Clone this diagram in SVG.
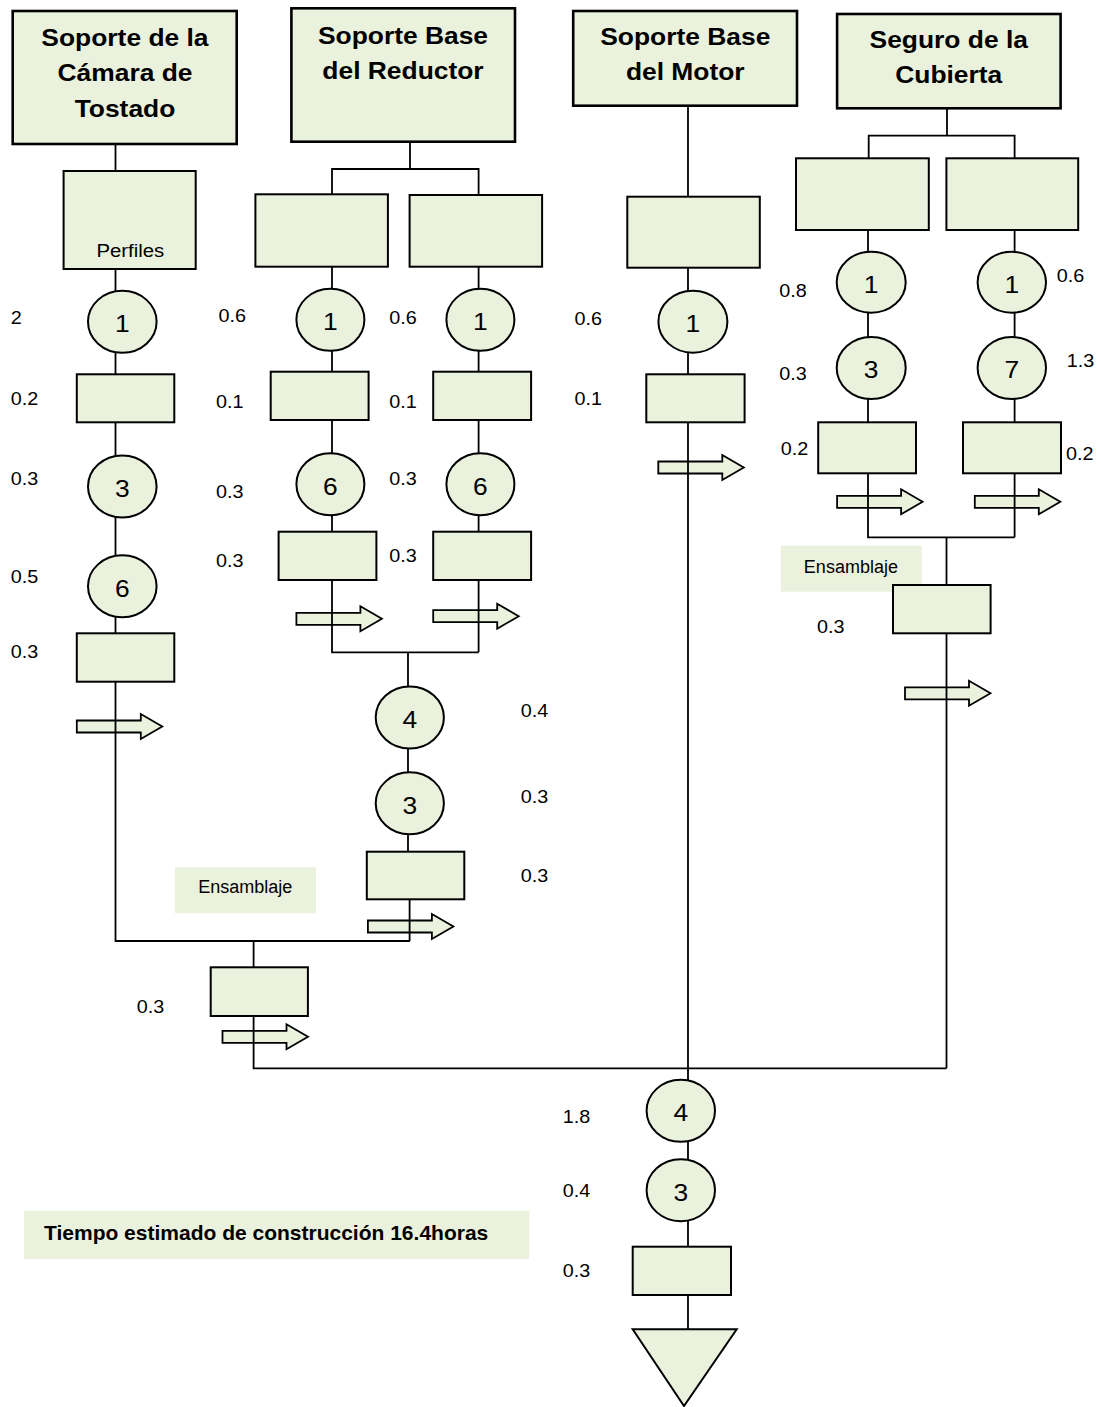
<svg xmlns="http://www.w3.org/2000/svg" xmlns:xlink="http://www.w3.org/1999/xlink" width="1101" height="1407" viewBox="0 0 1101 1407">
  <style>
    .hdr { fill: #EAF1DD; stroke: #000; stroke-width: 2.6; }
    .box { fill: #EAF1DD; stroke: #000; stroke-width: 2; }
    .op { fill: #EAF1DD; stroke: #000; stroke-width: 2; }
    .tag { fill: #EAF1DD; stroke: none; }
    .ln { fill: none; stroke: #000; stroke-width: 1.8; }
    .arr { fill: #EAF1DD; stroke: #000; stroke-width: 1.8; stroke-linejoin: miter; }
    text { font-family: "Liberation Sans", Arial, sans-serif; fill: #000; }
    .ht { font-size: 24px; font-weight: bold; text-anchor: middle;
          transform: scaleX(1.1); transform-box: fill-box; transform-origin: 50% 50%; }
    .dg { font-size: 24px; text-anchor: middle;
          transform: scaleX(1.1); transform-box: fill-box; transform-origin: 50% 50%; }
    .n { font-size: 18px; transform: scaleX(1.1); transform-box: fill-box; transform-origin: 0 50%; }
    .lb { font-size: 18px; text-anchor: middle; }
    .pf { font-size: 18.5px; text-anchor: middle;
          transform: scaleX(1.1); transform-box: fill-box; transform-origin: 50% 50%; }
    .tot { font-size: 21px; font-weight: bold; }
  </style>
  <defs>
    <!-- block arrow for transport steps, origin at left end of the shaft centre -->
    <path id="mv" class="arr" d="M0,-6 H64 V-12.5 L85.5,0 L64,12.5 V6 H0 Z"/>
  </defs>

  <rect width="1101" height="1407" fill="#fff"/>

  <!-- transport arrows (lines pass over them) -->
  <g id="transport">
    <use xlink:href="#mv" x="76.8" y="726.5"/>
    <use xlink:href="#mv" x="296.4" y="618.8"/>
    <use xlink:href="#mv" x="433.2" y="616.2"/>
    <use xlink:href="#mv" x="658.3" y="467.5"/>
    <use xlink:href="#mv" x="837.1" y="501.8"/>
    <use xlink:href="#mv" x="974.8" y="501.8"/>
    <use xlink:href="#mv" x="905" y="693.3"/>
    <use xlink:href="#mv" x="367.9" y="926.5"/>
    <use xlink:href="#mv" x="222.5" y="1036.8"/>
  </g>

  <!-- flow lines -->
  <g id="connectors" class="ln">
    <!-- camara de tostado -->
    <path d="M115.5,144 V941 H410"/>
    <!-- reductor -->
    <path d="M410,141.7 V169"/>
    <path d="M332,194.3 V169 H478.6 V195"/>
    <path d="M332,266.7 V652.3 H478.6"/>
    <path d="M478.6,266.7 V652.3"/>
    <path d="M408,652.3 V851.7"/>
    <path d="M409.6,899.3 V941"/>
    <!-- first assembly -->
    <path d="M253.6,941 V967.3"/>
    <path d="M253.6,1016 V1068.3 H946.5"/>
    <!-- motor / main line -->
    <path d="M688,105.7 V1246.7"/>
    <path d="M688,1295 V1329.3"/>
    <!-- cubierta -->
    <path d="M947,108.3 V135.7"/>
    <path d="M868.7,158.3 V135.7 H1014.6 V158.3"/>
    <path d="M868,230 V537.3 H1014.6"/>
    <path d="M1014.6,230 V537.3"/>
    <path d="M946.5,537.3 V1068.3"/>
  </g>

  <!-- headers -->
  <g id="hdr-camara">
    <rect class="hdr" x="12.7" y="11" width="224" height="133"/>
    <text class="ht" x="125" y="46">Soporte de la</text>
    <text class="ht" x="125" y="81.5">Cámara de</text>
    <text class="ht" x="125" y="117">Tostado</text>
  </g>
  <g id="hdr-reductor">
    <rect class="hdr" x="291.4" y="8.3" width="223.6" height="133.4"/>
    <text class="ht" x="403" y="44.3">Soporte Base</text>
    <text class="ht" x="403" y="79.3">del Reductor</text>
  </g>
  <g id="hdr-motor">
    <rect class="hdr" x="573.2" y="11" width="223.8" height="94.7"/>
    <text class="ht" x="685.3" y="45">Soporte Base</text>
    <text class="ht" x="685.3" y="80">del Motor</text>
  </g>
  <g id="hdr-cubierta">
    <rect class="hdr" x="837.1" y="14" width="223.5" height="94.3"/>
    <text class="ht" x="948.8" y="48.3">Seguro de la</text>
    <text class="ht" x="948.8" y="83.3">Cubierta</text>
  </g>

  <!-- raw material boxes -->
  <g id="mat-perfiles">
    <rect class="box" x="63.6" y="171" width="132.1" height="98"/>
    <text class="pf" x="130.4" y="256.7">Perfiles</text>
  </g>
  <g id="mat-red-a"><rect class="box" x="255.4" y="194.3" width="132.5" height="72.4"/></g>
  <g id="mat-red-b"><rect class="box" x="409.6" y="195" width="132.5" height="71.7"/></g>
  <g id="mat-motor"><rect class="box" x="627.3" y="196.7" width="132.5" height="71"/></g>
  <g id="mat-cub-a"><rect class="box" x="796" y="158.3" width="132.8" height="71.7"/></g>
  <g id="mat-cub-b"><rect class="box" x="946.4" y="158.3" width="131.8" height="71.7"/></g>

  <!-- column: camara de tostado -->
  <g id="cam-op1"><ellipse class="op" cx="122.3" cy="321.8" rx="34.3" ry="31"/><text class="dg" x="122.3" y="332.3">1</text></g>
  <g id="cam-insp1"><rect class="box" x="76.8" y="374.3" width="97.5" height="48"/></g>
  <g id="cam-op3"><ellipse class="op" cx="122.3" cy="486.5" rx="34.3" ry="31"/><text class="dg" x="122.3" y="497">3</text></g>
  <g id="cam-op6"><ellipse class="op" cx="122.3" cy="586.3" rx="34.3" ry="31"/><text class="dg" x="122.3" y="596.8">6</text></g>
  <g id="cam-insp2"><rect class="box" x="76.8" y="633.3" width="97.5" height="48.4"/></g>

  <!-- column: reductor a -->
  <g id="reda-op1"><ellipse class="op" cx="330.4" cy="319.8" rx="34" ry="31"/><text class="dg" x="330.4" y="330.3">1</text></g>
  <g id="reda-insp1"><rect class="box" x="270.7" y="371.7" width="97.9" height="48.3"/></g>
  <g id="reda-op6"><ellipse class="op" cx="330.4" cy="484.2" rx="34" ry="31"/><text class="dg" x="330.4" y="494.7">6</text></g>
  <g id="reda-insp2"><rect class="box" x="278.6" y="531.7" width="97.8" height="48.3"/></g>

  <!-- column: reductor b -->
  <g id="redb-op1"><ellipse class="op" cx="480.4" cy="319.8" rx="34" ry="31"/><text class="dg" x="480.4" y="330.3">1</text></g>
  <g id="redb-insp1"><rect class="box" x="433.2" y="371.7" width="97.9" height="48.3"/></g>
  <g id="redb-op6"><ellipse class="op" cx="480.4" cy="484.2" rx="34" ry="31"/><text class="dg" x="480.4" y="494.7">6</text></g>
  <g id="redb-insp2"><rect class="box" x="433.2" y="531.7" width="97.9" height="48.3"/></g>

  <!-- reductor joined -->
  <g id="red-op4"><ellipse class="op" cx="409.8" cy="717.5" rx="34.1" ry="31"/><text class="dg" x="409.8" y="728">4</text></g>
  <g id="red-op3"><ellipse class="op" cx="409.8" cy="803.3" rx="34.1" ry="31"/><text class="dg" x="409.8" y="813.8">3</text></g>
  <g id="red-insp"><rect class="box" x="366.8" y="851.7" width="97.5" height="47.6"/></g>

  <!-- column: motor -->
  <g id="mot-op1"><ellipse class="op" cx="692.9" cy="321.7" rx="34.5" ry="31"/><text class="dg" x="692.9" y="332.2">1</text></g>
  <g id="mot-insp"><rect class="box" x="646.3" y="374.3" width="98.3" height="48"/></g>

  <!-- column: cubierta -->
  <g id="cuba-op1"><ellipse class="op" cx="871.2" cy="282.2" rx="34.5" ry="30.5"/><text class="dg" x="871.2" y="293">1</text></g>
  <g id="cuba-op3"><ellipse class="op" cx="871.2" cy="368" rx="34.5" ry="31"/><text class="dg" x="871.2" y="378.5">3</text></g>
  <g id="cuba-insp"><rect class="box" x="818.2" y="422.3" width="97.8" height="51"/></g>
  <g id="cubb-op1"><ellipse class="op" cx="1011.8" cy="282.2" rx="34.2" ry="30.5"/><text class="dg" x="1011.8" y="293">1</text></g>
  <g id="cubb-op7"><ellipse class="op" cx="1011.8" cy="368" rx="34.2" ry="31"/><text class="dg" x="1011.8" y="378.5">7</text></g>
  <g id="cubb-insp"><rect class="box" x="963" y="422.3" width="98" height="51"/></g>

  <!-- assembly labels -->
  <g id="tag-ens-cub">
    <rect class="tag" x="780.8" y="545.7" width="140.8" height="46"/>
    <text class="lb" x="850.9" y="572.7">Ensamblaje</text>
  </g>
  <g id="cub-insp"><rect class="box" x="893" y="585" width="97.6" height="48.3"/></g>

  <g id="tag-ens-1">
    <rect class="tag" x="175" y="867.3" width="141" height="46"/>
    <text class="lb" x="245.3" y="893.3">Ensamblaje</text>
  </g>
  <g id="ens1-insp"><rect class="box" x="210.7" y="967.3" width="97.2" height="48.7"/></g>

  <!-- final assembly -->
  <g id="fin-op4"><ellipse class="op" cx="680.8" cy="1110.8" rx="34.2" ry="31"/><text class="dg" x="680.8" y="1121.3">4</text></g>
  <g id="fin-op3"><ellipse class="op" cx="680.8" cy="1190.2" rx="34.2" ry="31"/><text class="dg" x="680.8" y="1200.7">3</text></g>
  <g id="fin-insp"><rect class="box" x="632.7" y="1246.7" width="98.3" height="48.3"/></g>
  <g id="fin-store"><polygon class="op" points="632.7,1329.3 736.7,1329.3 684,1406"/></g>

  <!-- times (hours) -->
  <g id="times">
    <text class="n" x="10.7" y="324.3">2</text>
    <text class="n" x="10.7" y="405">0.2</text>
    <text class="n" x="10.7" y="485">0.3</text>
    <text class="n" x="10.7" y="583.3">0.5</text>
    <text class="n" x="10.7" y="658.3">0.3</text>
    <text class="n" x="218.6" y="321.7">0.6</text>
    <text class="n" x="216" y="408.3">0.1</text>
    <text class="n" x="216" y="498.3">0.3</text>
    <text class="n" x="216" y="566.7">0.3</text>
    <text class="n" x="389.3" y="324">0.6</text>
    <text class="n" x="389.3" y="408.3">0.1</text>
    <text class="n" x="389.3" y="485">0.3</text>
    <text class="n" x="389.3" y="561.7">0.3</text>
    <text class="n" x="574.5" y="325">0.6</text>
    <text class="n" x="574.5" y="405">0.1</text>
    <text class="n" x="779.3" y="296.7">0.8</text>
    <text class="n" x="779.3" y="380">0.3</text>
    <text class="n" x="780.8" y="455">0.2</text>
    <text class="n" x="1056.7" y="281.7">0.6</text>
    <text class="n" x="1066.7" y="366.7">1.3</text>
    <text class="n" x="1065.9" y="460">0.2</text>
    <text class="n" x="817.1" y="632.7">0.3</text>
    <text class="n" x="520.7" y="717.3">0.4</text>
    <text class="n" x="520.7" y="803.3">0.3</text>
    <text class="n" x="520.7" y="881.7">0.3</text>
    <text class="n" x="136.8" y="1013.3">0.3</text>
    <text class="n" x="562.7" y="1123.3">1.8</text>
    <text class="n" x="562.7" y="1196.7">0.4</text>
    <text class="n" x="562.7" y="1276.7">0.3</text>
  </g>

  <!-- total time note -->
  <g id="total">
    <rect class="tag" x="24" y="1210.7" width="505.3" height="48.3"/>
    <text class="tot" x="44" y="1240">Tiempo estimado de construcción 16.4horas</text>
  </g>
</svg>
